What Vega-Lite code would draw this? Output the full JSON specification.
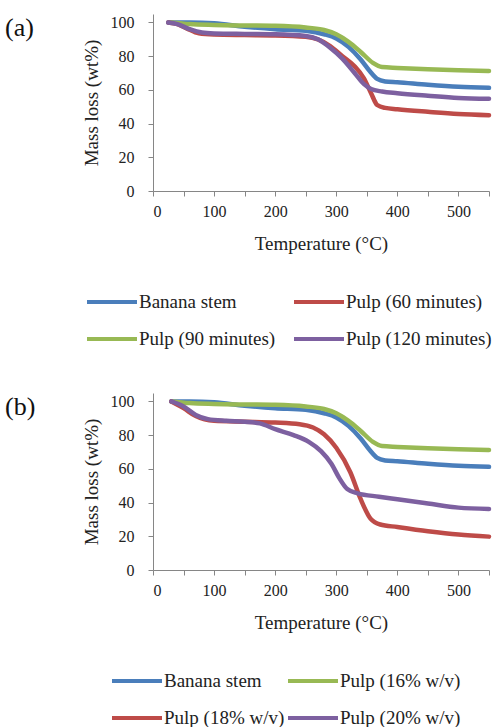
{
  "$schema": "https://vega.github.io/schema/vega-lite/v6.json",
  "background": "white",
  "padding": {"left": 5, "top": 13, "right": 5, "bottom": 5},
  "spacing": 43,
  "config": {
    "view": {"stroke": null},
    "font": "Liberation Serif",
    "axis": {
      "grid": false,
      "domainColor": "#868686",
      "tickColor": "#868686",
      "labelColor": "#222",
      "titleColor": "#222",
      "labelFont": "Liberation Serif",
      "titleFont": "Liberation Serif",
      "labelFontSize": 16,
      "titleFontSize": 19,
      "titleFontWeight": "normal",
      "tickSize": 5
    },
    "legend": {
      "labelFont": "Liberation Serif",
      "labelFontSize": 19,
      "labelColor": "#222",
      "symbolType": "stroke",
      "symbolSize": 2500,
      "symbolStrokeWidth": 4,
      "labelOffset": 0,
      "rowPadding": -18,
      "labelLimit": 300
    },
    "title": {"font": "Liberation Serif", "fontSize": 26, "fontWeight": "normal", "color": "#111"}
  },
  "datasets": {
    "a": [
      {"series": "Banana stem", "t": 25, "m": 100}, {"series": "Banana stem", "t": 60, "m": 100}, {"series": "Banana stem", "t": 100, "m": 99.5}, {"series": "Banana stem", "t": 150, "m": 97.5}, {"series": "Banana stem", "t": 200, "m": 96}, {"series": "Banana stem", "t": 250, "m": 95}, {"series": "Banana stem", "t": 280, "m": 93}, {"series": "Banana stem", "t": 300, "m": 90.5}, {"series": "Banana stem", "t": 320, "m": 85.5}, {"series": "Banana stem", "t": 340, "m": 78}, {"series": "Banana stem", "t": 355, "m": 71}, {"series": "Banana stem", "t": 367, "m": 66.5}, {"series": "Banana stem", "t": 380, "m": 65}, {"series": "Banana stem", "t": 400, "m": 64.5}, {"series": "Banana stem", "t": 450, "m": 63}, {"series": "Banana stem", "t": 500, "m": 61.8}, {"series": "Banana stem", "t": 550, "m": 61.2},
      {"series": "Pulp (60 minutes)", "t": 25, "m": 100}, {"series": "Pulp (60 minutes)", "t": 40, "m": 99}, {"series": "Pulp (60 minutes)", "t": 55, "m": 96.5}, {"series": "Pulp (60 minutes)", "t": 75, "m": 93.5}, {"series": "Pulp (60 minutes)", "t": 100, "m": 92.8}, {"series": "Pulp (60 minutes)", "t": 150, "m": 92.5}, {"series": "Pulp (60 minutes)", "t": 200, "m": 92.3}, {"series": "Pulp (60 minutes)", "t": 250, "m": 91.5}, {"series": "Pulp (60 minutes)", "t": 270, "m": 90}, {"series": "Pulp (60 minutes)", "t": 290, "m": 86}, {"series": "Pulp (60 minutes)", "t": 310, "m": 80}, {"series": "Pulp (60 minutes)", "t": 330, "m": 74}, {"series": "Pulp (60 minutes)", "t": 345, "m": 67}, {"series": "Pulp (60 minutes)", "t": 357, "m": 58}, {"series": "Pulp (60 minutes)", "t": 367, "m": 51}, {"series": "Pulp (60 minutes)", "t": 380, "m": 49.3}, {"series": "Pulp (60 minutes)", "t": 400, "m": 48.5}, {"series": "Pulp (60 minutes)", "t": 450, "m": 47}, {"series": "Pulp (60 minutes)", "t": 500, "m": 45.7}, {"series": "Pulp (60 minutes)", "t": 550, "m": 45},
      {"series": "Pulp (90 minutes)", "t": 30, "m": 100}, {"series": "Pulp (90 minutes)", "t": 60, "m": 99}, {"series": "Pulp (90 minutes)", "t": 100, "m": 98.5}, {"series": "Pulp (90 minutes)", "t": 150, "m": 98.2}, {"series": "Pulp (90 minutes)", "t": 200, "m": 98}, {"series": "Pulp (90 minutes)", "t": 250, "m": 97}, {"series": "Pulp (90 minutes)", "t": 280, "m": 95.5}, {"series": "Pulp (90 minutes)", "t": 300, "m": 93}, {"series": "Pulp (90 minutes)", "t": 320, "m": 88.5}, {"series": "Pulp (90 minutes)", "t": 340, "m": 82.5}, {"series": "Pulp (90 minutes)", "t": 360, "m": 76}, {"series": "Pulp (90 minutes)", "t": 375, "m": 73.5}, {"series": "Pulp (90 minutes)", "t": 400, "m": 73}, {"series": "Pulp (90 minutes)", "t": 450, "m": 72.2}, {"series": "Pulp (90 minutes)", "t": 500, "m": 71.6}, {"series": "Pulp (90 minutes)", "t": 550, "m": 71.2},
      {"series": "Pulp (120 minutes)", "t": 25, "m": 100}, {"series": "Pulp (120 minutes)", "t": 40, "m": 99}, {"series": "Pulp (120 minutes)", "t": 60, "m": 96}, {"series": "Pulp (120 minutes)", "t": 80, "m": 94}, {"series": "Pulp (120 minutes)", "t": 100, "m": 93.5}, {"series": "Pulp (120 minutes)", "t": 150, "m": 93.2}, {"series": "Pulp (120 minutes)", "t": 200, "m": 93}, {"series": "Pulp (120 minutes)", "t": 250, "m": 92}, {"series": "Pulp (120 minutes)", "t": 270, "m": 90}, {"series": "Pulp (120 minutes)", "t": 290, "m": 85}, {"series": "Pulp (120 minutes)", "t": 310, "m": 78.5}, {"series": "Pulp (120 minutes)", "t": 330, "m": 70}, {"series": "Pulp (120 minutes)", "t": 345, "m": 63.5}, {"series": "Pulp (120 minutes)", "t": 357, "m": 60.5}, {"series": "Pulp (120 minutes)", "t": 375, "m": 59}, {"series": "Pulp (120 minutes)", "t": 400, "m": 58}, {"series": "Pulp (120 minutes)", "t": 450, "m": 56.5}, {"series": "Pulp (120 minutes)", "t": 500, "m": 55.2}, {"series": "Pulp (120 minutes)", "t": 550, "m": 54.7}
    ],
    "b": [
      {"series": "Banana stem", "t": 30, "m": 100}, {"series": "Banana stem", "t": 60, "m": 100}, {"series": "Banana stem", "t": 100, "m": 99.5}, {"series": "Banana stem", "t": 150, "m": 97.5}, {"series": "Banana stem", "t": 200, "m": 96}, {"series": "Banana stem", "t": 250, "m": 95}, {"series": "Banana stem", "t": 280, "m": 93}, {"series": "Banana stem", "t": 300, "m": 90.5}, {"series": "Banana stem", "t": 320, "m": 85.5}, {"series": "Banana stem", "t": 340, "m": 78}, {"series": "Banana stem", "t": 355, "m": 71}, {"series": "Banana stem", "t": 367, "m": 66.5}, {"series": "Banana stem", "t": 380, "m": 65}, {"series": "Banana stem", "t": 400, "m": 64.5}, {"series": "Banana stem", "t": 450, "m": 63}, {"series": "Banana stem", "t": 500, "m": 61.8}, {"series": "Banana stem", "t": 550, "m": 61.2},
      {"series": "Pulp (16% w/v)", "t": 30, "m": 100}, {"series": "Pulp (16% w/v)", "t": 60, "m": 99}, {"series": "Pulp (16% w/v)", "t": 100, "m": 98.5}, {"series": "Pulp (16% w/v)", "t": 150, "m": 98.2}, {"series": "Pulp (16% w/v)", "t": 200, "m": 98}, {"series": "Pulp (16% w/v)", "t": 250, "m": 97}, {"series": "Pulp (16% w/v)", "t": 280, "m": 95.5}, {"series": "Pulp (16% w/v)", "t": 300, "m": 93}, {"series": "Pulp (16% w/v)", "t": 320, "m": 88.5}, {"series": "Pulp (16% w/v)", "t": 340, "m": 82.5}, {"series": "Pulp (16% w/v)", "t": 360, "m": 76}, {"series": "Pulp (16% w/v)", "t": 375, "m": 73.5}, {"series": "Pulp (16% w/v)", "t": 400, "m": 73}, {"series": "Pulp (16% w/v)", "t": 450, "m": 72.2}, {"series": "Pulp (16% w/v)", "t": 500, "m": 71.6}, {"series": "Pulp (16% w/v)", "t": 550, "m": 71.2},
      {"series": "Pulp (18% w/v)", "t": 30, "m": 100}, {"series": "Pulp (18% w/v)", "t": 50, "m": 96}, {"series": "Pulp (18% w/v)", "t": 70, "m": 91.3}, {"series": "Pulp (18% w/v)", "t": 100, "m": 88.5}, {"series": "Pulp (18% w/v)", "t": 150, "m": 88}, {"series": "Pulp (18% w/v)", "t": 200, "m": 87.5}, {"series": "Pulp (18% w/v)", "t": 240, "m": 86.5}, {"series": "Pulp (18% w/v)", "t": 262, "m": 84.5}, {"series": "Pulp (18% w/v)", "t": 280, "m": 80.5}, {"series": "Pulp (18% w/v)", "t": 300, "m": 72.5}, {"series": "Pulp (18% w/v)", "t": 323, "m": 58}, {"series": "Pulp (18% w/v)", "t": 340, "m": 42}, {"series": "Pulp (18% w/v)", "t": 356, "m": 30.5}, {"series": "Pulp (18% w/v)", "t": 372, "m": 27}, {"series": "Pulp (18% w/v)", "t": 400, "m": 25.5}, {"series": "Pulp (18% w/v)", "t": 450, "m": 23}, {"series": "Pulp (18% w/v)", "t": 500, "m": 21}, {"series": "Pulp (18% w/v)", "t": 550, "m": 19.8},
      {"series": "Pulp (20% w/v)", "t": 30, "m": 100}, {"series": "Pulp (20% w/v)", "t": 50, "m": 97}, {"series": "Pulp (20% w/v)", "t": 70, "m": 92}, {"series": "Pulp (20% w/v)", "t": 90, "m": 89.5}, {"series": "Pulp (20% w/v)", "t": 120, "m": 88.5}, {"series": "Pulp (20% w/v)", "t": 150, "m": 88}, {"series": "Pulp (20% w/v)", "t": 175, "m": 87}, {"series": "Pulp (20% w/v)", "t": 200, "m": 83.5}, {"series": "Pulp (20% w/v)", "t": 230, "m": 80}, {"series": "Pulp (20% w/v)", "t": 255, "m": 76}, {"series": "Pulp (20% w/v)", "t": 275, "m": 70.5}, {"series": "Pulp (20% w/v)", "t": 292, "m": 63}, {"series": "Pulp (20% w/v)", "t": 305, "m": 54.5}, {"series": "Pulp (20% w/v)", "t": 318, "m": 48}, {"series": "Pulp (20% w/v)", "t": 335, "m": 45.5}, {"series": "Pulp (20% w/v)", "t": 370, "m": 43.5}, {"series": "Pulp (20% w/v)", "t": 400, "m": 42}, {"series": "Pulp (20% w/v)", "t": 450, "m": 39.5}, {"series": "Pulp (20% w/v)", "t": 500, "m": 37}, {"series": "Pulp (20% w/v)", "t": 550, "m": 36.2}
    ]
  },
  "resolve": {"scale": {"color": "independent"}, "legend": {"color": "independent"}},
  "vconcat": [
    {
      "width": 336,
      "height": 177,
      "title": {"text": "(a)", "anchor": "start", "frame": "group", "orient": "top", "offset": -28, "dx": -148},
      "data": {"name": "a"},
      "mark": {"type": "line", "interpolate": "monotone", "strokeWidth": 4.5, "strokeCap": "round"},
      "encoding": {
        "x": {"field": "t", "type": "quantitative", "title": "Temperature (°C)",
          "scale": {"domain": [0, 550], "nice": false},
          "axis": {"values": [0, 50, 100, 150, 200, 250, 300, 350, 400, 450, 500, 550], "labelExpr": "datum.value % 100 == 0 ? datum.label : ''", "labelPadding": 7, "titlePadding": 15}},
        "y": {"field": "m", "type": "quantitative", "title": "Mass loss (wt%)",
          "scale": {"domain": [0, 105], "nice": false},
          "axis": {"values": [0, 20, 40, 60, 80, 100], "labelPadding": 14, "titlePadding": 9}},
        "color": {"field": "series", "type": "nominal",
          "scale": {"domain": ["Banana stem", "Pulp (60 minutes)", "Pulp (90 minutes)", "Pulp (120 minutes)"], "range": ["#4A7EBB", "#BE4B48", "#98B954", "#7D60A0"]},
          "legend": {"title": null, "orient": "none", "direction": "horizontal", "legendX": -68, "legendY": 261, "columns": 2, "columnPadding": 10}}
      }
    },
    {
      "width": 336,
      "height": 177,
      "title": {"text": "(b)", "anchor": "start", "frame": "group", "orient": "top", "offset": -28, "dx": -148},
      "data": {"name": "b"},
      "mark": {"type": "line", "interpolate": "monotone", "strokeWidth": 4.5, "strokeCap": "round"},
      "encoding": {
        "x": {"field": "t", "type": "quantitative", "title": "Temperature (°C)",
          "scale": {"domain": [0, 550], "nice": false},
          "axis": {"values": [0, 50, 100, 150, 200, 250, 300, 350, 400, 450, 500, 550], "labelExpr": "datum.value % 100 == 0 ? datum.label : ''", "labelPadding": 7, "titlePadding": 15}},
        "y": {"field": "m", "type": "quantitative", "title": "Mass loss (wt%)",
          "scale": {"domain": [0, 105], "nice": false},
          "axis": {"values": [0, 20, 40, 60, 80, 100], "labelPadding": 14, "titlePadding": 9}},
        "color": {"field": "series", "type": "nominal",
          "scale": {"domain": ["Banana stem", "Pulp (16% w/v)", "Pulp (18% w/v)", "Pulp (20% w/v)"], "range": ["#4A7EBB", "#98B954", "#BE4B48", "#7D60A0"]},
          "legend": {"title": null, "orient": "none", "direction": "horizontal", "legendX": -43, "legendY": 261, "columns": 2, "columnPadding": -5}}
      }
    }
  ]
}
